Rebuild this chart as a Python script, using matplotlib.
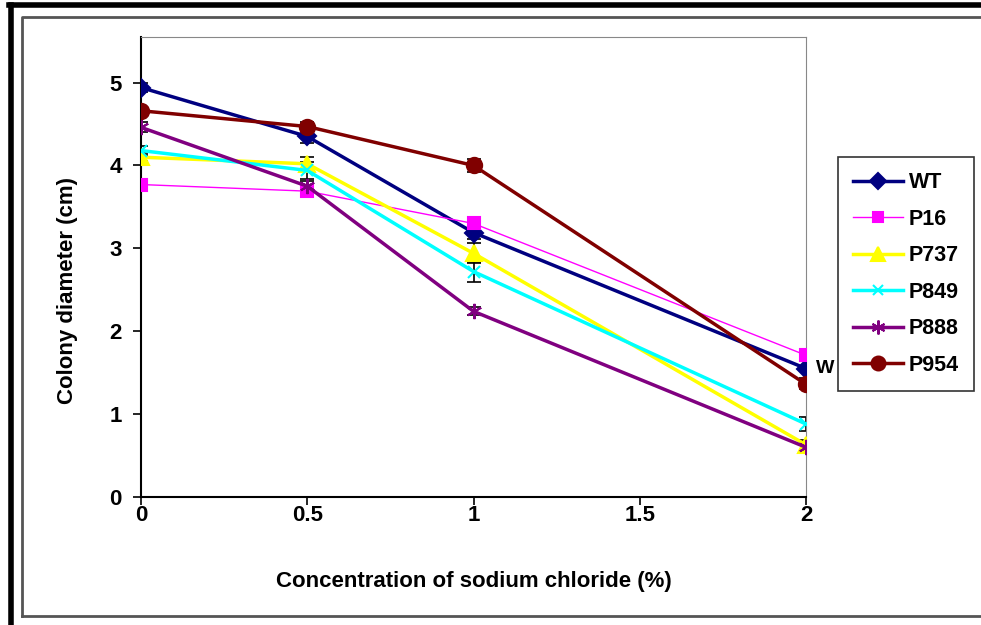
import numpy as np
import matplotlib
matplotlib.use('Agg')
import matplotlib.pyplot as plt
from matplotlib.lines import Line2D

plt.rcParams['font.family'] = ['Liberation Sans', 'DejaVu Sans']

conc = [0, 0.5, 1, 2]
series = ['WT', 'P16', 'P737', 'P849', 'P888', 'P954']
wt = [4.94, 4.35, 3.19, 1.55]
p16 = [3.77, 3.69, 3.30, 1.71]
p737 = [4.10, 4.02, 2.94, 0.63]
p849 = [4.18, 3.94, 2.72, 0.88]
p888 = [4.46, 3.75, 2.24, 0.60]
p954 = [4.66, 4.47, 4.00, 1.36]

wt_err = [0.05, 0.08, 0.08, 0.12]
p16_err = [0.05, 0.05, 0.05, 0.07]
p737_err = [0.05, 0.08, 0.12, 0.06]
p849_err = [0.05, 0.10, 0.12, 0.08]
p888_err = [0.06, 0.06, 0.05, 0.05]
p954_err = [0.05, 0.06, 0.08, 0.06]

values = [wt, p16, p737, p849, p888, p954]
errors = [wt_err, p16_err, p737_err, p849_err, p888_err, p954_err]
colors = ['#000080', '#FF00FF', '#FFFF00', '#00FFFF', '#800080', '#800000']
markers = ['D', 's', '^', 'x', (6, 2, 0), 'o']
msizes = [9, 8, 11, 8, 11, 11]
lwidths = [2.5, 1.0, 2.5, 2.5, 2.5, 2.5]

fig = plt.figure(figsize=(9.81, 6.25), dpi=100)
ax = fig.add_axes([141 / 981, 1 - 497 / 625, 665 / 981, 460 / 625])

handles = []
for name, y, e, c, m, ms, lw in zip(series, values, errors, colors, markers, msizes, lwidths):
    ax.errorbar(conc, y, yerr=e, fmt='none', ecolor='black', elinewidth=1.2,
                capsize=5, capthick=1.2, zorder=2)
    ax.plot(conc, y, color=c, lw=lw, marker=m, ms=ms, mec=c, mew=1.5, zorder=3)
    handles.append(Line2D([], [], color=c, lw=lw, marker=m, ms=ms - 1, mec=c, mew=1.5, label=name))

ax.text(2.03, 1.55, 'W', fontsize=14, fontweight='bold', va='center', ha='left')

ax.set_xlim(0, 2)
ax.set_ylim(0, 5.55)
ax.set_xticks([0, 0.5, 1, 1.5, 2])
ax.set_xticklabels(['0', '0.5', '1', '1.5', '2'])
ax.set_yticks([0, 1, 2, 3, 4, 5])
ax.tick_params(direction='out', length=6, width=1.2, labelsize=16)
ax.tick_params(axis='x', pad=0)
ax.tick_params(axis='y', pad=8)
for lab in ax.get_xticklabels() + ax.get_yticklabels():
    lab.set_fontweight('bold')
ax.spines['left'].set_linewidth(1.5)
ax.spines['bottom'].set_linewidth(1.5)
ax.spines['top'].set_color('#888888')
ax.spines['right'].set_color('#888888')

ax.set_xlabel('Concentration of sodium chloride (%)', fontsize=16, fontweight='bold', labelpad=32)
ax.set_ylabel('Colony diameter (cm)', fontsize=16, fontweight='bold')
ax.yaxis.set_label_coords(-0.095, 0.45)

leg = fig.legend(handles=handles, loc='upper left', bbox_to_anchor=(838 / 981, 1 - 157 / 625),
                 borderaxespad=0, frameon=True, fancybox=False, edgecolor='black', fontsize=15.5,
                 handlelength=2.3, labelspacing=0.72, borderpad=0.7, handletextpad=0.3)
leg.get_frame().set_linewidth(1.2)
for t in leg.get_texts():
    t.set_fontweight('bold')

# outer black frame (left/top) and inner gray frame
fig.add_artist(Line2D([11 / 981, 11 / 981], [0, 1 - 5 / 625], color='black', lw=4, transform=fig.transFigure))
fig.add_artist(Line2D([9 / 981, 1], [1 - 5 / 625, 1 - 5 / 625], color='black', lw=4, transform=fig.transFigure))
fig.add_artist(Line2D([22 / 981, 22 / 981, 1], [1 - 616 / 625, 1 - 17 / 625, 1 - 17 / 625],
                      color='#555555', lw=2, transform=fig.transFigure))
fig.add_artist(Line2D([22 / 981, 1], [1 - 616 / 625, 1 - 616 / 625],
                      color='#555555', lw=2, transform=fig.transFigure))

fig.savefig('out.png', dpi=100)
